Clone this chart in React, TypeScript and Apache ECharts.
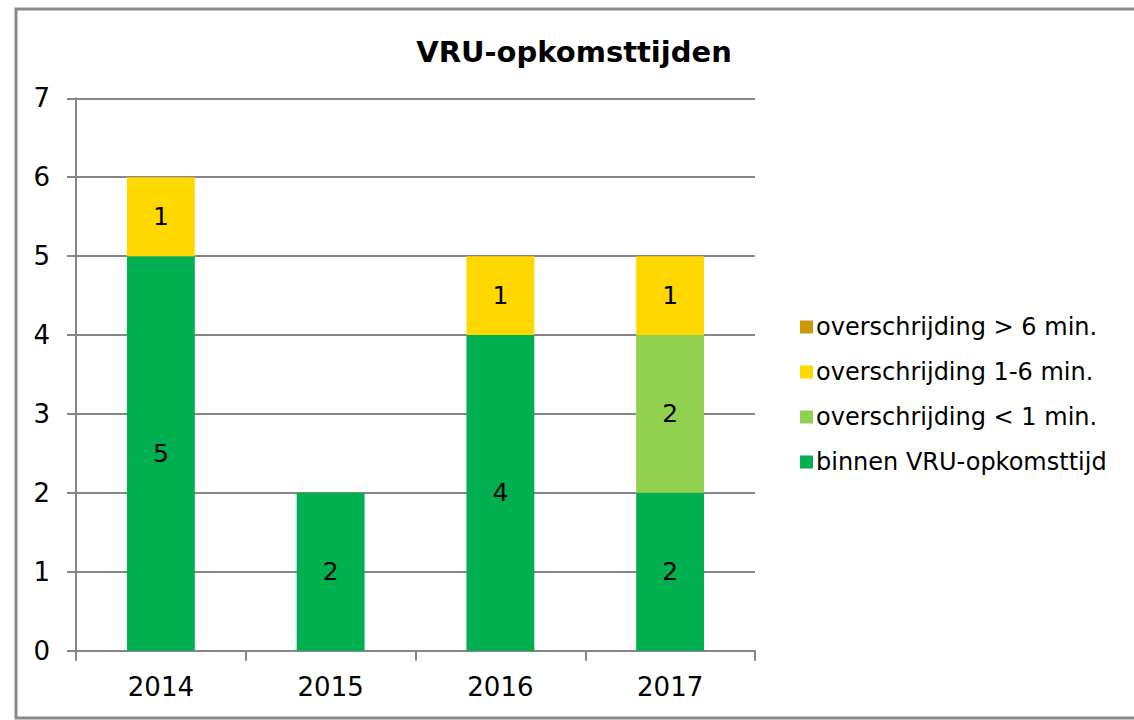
import React, { useEffect, useRef } from "react";
import * as echarts from "echarts";

const categories = ["2014", "2015", "2016", "2017"];
const binnen = [5, 2, 4, 2];
const onder1 = [0, 0, 0, 2];
const tussen1en6 = [1, 0, 1, 1];
const boven6 = [0, 0, 0, 0];
const seriesNames = [
  "binnen VRU-opkomsttijd",
  "overschrijding < 1 min.",
  "overschrijding 1-6 min.",
  "overschrijding > 6 min.",
];
const colors = ["#00B050", "#92D050", "#FFD800", "#CC9A06"];
const titleText = "VRU-opkomsttijden";

const FONT = "DejaVu Sans";

export default function App() {
  const ref = useRef<HTMLDivElement>(null);
  useEffect(() => {
    if (!ref.current) return;
    const chart = echarts.init(ref.current, null, { renderer: "svg" });
    const values = [binnen, onder1, tussen1en6, boven6];
    const series = values.map((d, i) => ({
      name: seriesNames[i],
      type: "bar",
      stack: "total",
      data: d,
      barWidth: "40%",
      itemStyle: { color: colors[i] },
      label: {
        show: true,
        position: "inside",
        color: "#000",
        fontFamily: FONT,
        fontSize: 25,
        formatter: (p: any) => (p.value ? String(p.value) : ""),
      },
    }));
    chart.setOption({
      animation: false,
      backgroundColor: "#fff",
      textStyle: { fontFamily: FONT },
      grid: { left: 76, right: 379, top: 98.3, bottom: 69.3 },
      legend: {
        orient: "vertical",
        left: 800,
        top: 315,
        padding: 0,
        itemWidth: 13,
        itemHeight: 13,
        itemGap: 21,
        icon: "rect",
        data: [...seriesNames].reverse(),
        textStyle: { fontFamily: FONT, fontSize: 24, color: "#000", padding: [0, 0, 0, -2] },
      },
      xAxis: {
        type: "category",
        data: categories,
        axisLine: { lineStyle: { color: "#868686", width: 2 } },
        axisTick: { show: true, length: 10, lineStyle: { color: "#868686", width: 2 } },
        axisLabel: { color: "#000", fontSize: 26, fontFamily: FONT, margin: 23 },
      },
      yAxis: {
        type: "value",
        min: 0,
        max: 7,
        interval: 1,
        axisLine: { show: true, lineStyle: { color: "#868686", width: 2 } },
        axisTick: { show: true, length: 9, lineStyle: { color: "#868686", width: 2 } },
        splitLine: { lineStyle: { color: "#868686", width: 2 } },
        axisLabel: { color: "#000", fontSize: 26, fontFamily: FONT, margin: 26 },
      },
      graphic: [
        {
          type: "rect",
          shape: { x: 16, y: 9, width: 1140, height: 709 },
          style: { fill: "none", stroke: "#8a8a8a", lineWidth: 3 },
          silent: true,
        },
        {
          type: "text",
          x: 574,
          y: 52,
          style: {
            text: titleText,
            fill: "#000",
            font: `bold 29px "${FONT}"`,
            textAlign: "center",
            textVerticalAlign: "middle",
          },
        },
      ],
      series,
    });
    return () => chart.dispose();
  }, []);
  return (
    <div
      ref={ref}
      style={{ position: "fixed", left: 0, top: 0, width: 1134, height: 720 }}
    />
  );
}
